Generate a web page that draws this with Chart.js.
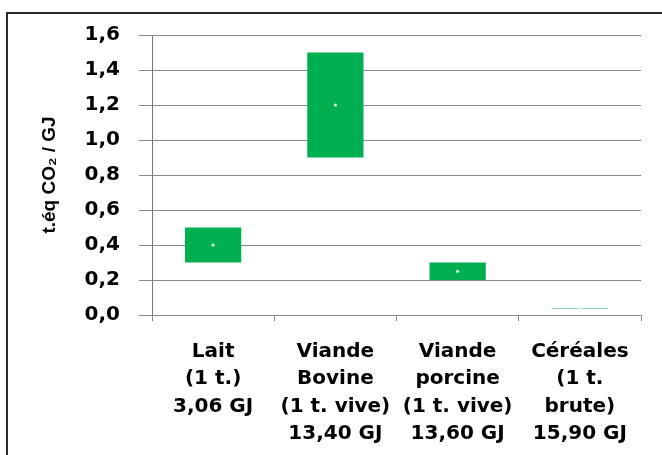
<!DOCTYPE html>
<html>
<head>
<meta charset="utf-8">
<script src="https://cdn.jsdelivr.net/npm/chart.js@4/dist/chart.umd.min.js"></script>
<style>
  html, body { margin: 0; padding: 0; background: #fff; }
  #wrap { position: relative; width: 662px; height: 455px; }
</style>
</head>
<body>
<div id="wrap"><canvas id="c" width="662" height="455"></canvas></div>
<script>
// Data
const categories = [
  ["Lait", "(1 t.)", "3,06 GJ"],
  ["Viande", "Bovine", "(1 t. vive)", "13,40 GJ"],
  ["Viande", "porcine", "(1 t. vive)", "13,60 GJ"],
  ["Céréales", "(1 t.", "brute)", "15,90 GJ"]
];
const minValues = [0.30, 0.90, 0.20, 0.034];
const maxValues = [0.50, 1.50, 0.30, 0.040];
const midValues = [0.40, 1.20, 0.25, 0.037];
const yTicks = [0, 0.2, 0.4, 0.6, 0.8, 1.0, 1.2, 1.4, 1.6];

const ranges = minValues.map((v, i) => [v, maxValues[i]]);

const frame = {
  id: 'frame',
  beforeDraw(chart) {
    const ctx = chart.ctx;
    ctx.save();
    ctx.fillStyle = '#fff';
    ctx.fillRect(0, 0, chart.width, chart.height);
    ctx.strokeStyle = '#2a2a2a';
    ctx.lineWidth = 2;
    ctx.beginPath();
    ctx.moveTo(7, 455);
    ctx.lineTo(7, 13);
    ctx.lineTo(662, 13);
    ctx.stroke();
    ctx.restore();
  }
};

const chart = new Chart(document.getElementById('c'), {
  type: 'bar',
  data: {
    labels: categories,
    datasets: [
      {
        type: 'line',
        data: midValues,
        showLine: false,
        pointRadius: 1.6,
        pointBackgroundColor: '#d8ffe4',
        pointBorderWidth: 0,
        order: 0
      },
      {
        data: ranges,
        backgroundColor: ['#00b050', '#00b050', '#00b050', '#8fd6a8'],
        borderWidth: 0,
        barPercentage: 0.46,
        categoryPercentage: 1.0,
        order: 1
      }
    ]
  },
  options: {
    responsive: false,
    animation: false,
    events: [],
    layout: { padding: { top: 35, right: 21, left: 0, bottom: 0 } },
    plugins: {
      legend: { display: false },
      tooltip: { enabled: false }
    },
    scales: {
      x: {
        offset: true,
        grid: {
          offset: true,
          drawOnChartArea: false,
          drawTicks: true,
          tickLength: 6,
          color: '#888'
        },
        border: { display: true, color: '#888' },
        ticks: {
          color: '#000',
          padding: 17,
          maxRotation: 0,
          autoSkip: false,
          font: { family: 'DejaVu Sans', weight: 'bold', size: 20, lineHeight: 1.37 }
        },
        afterFit(scale) { scale.height = 140; }
      },
      y: {
        min: 0,
        max: 1.6,
        afterBuildTicks(scale) { scale.ticks = yTicks.map(v => ({ value: v })); },
        grid: {
          color: '#8a8a8a',
          lineWidth: 1,
          drawTicks: true,
          tickLength: 13
        },
        border: { display: true, color: '#777' },
        ticks: {
          color: '#000',
          padding: 19,
          font: { family: 'DejaVu Sans', weight: 'bold', size: 20 },
          callback: v => v.toFixed(1).replace('.', ',')
        },
        title: {
          display: true,
          text: 't.éq CO₂ / GJ',
          color: '#000',
          padding: { top: 38, bottom: 0 },
          font: { family: "'Liberation Sans Narrow', 'Liberation Sans', Arial, sans-serif", weight: 'bold', size: 19 }
        },
        afterFit(scale) { scale.width = 152; }
      }
    }
  },
  plugins: [frame]
});
</script>
</body>
</html>
